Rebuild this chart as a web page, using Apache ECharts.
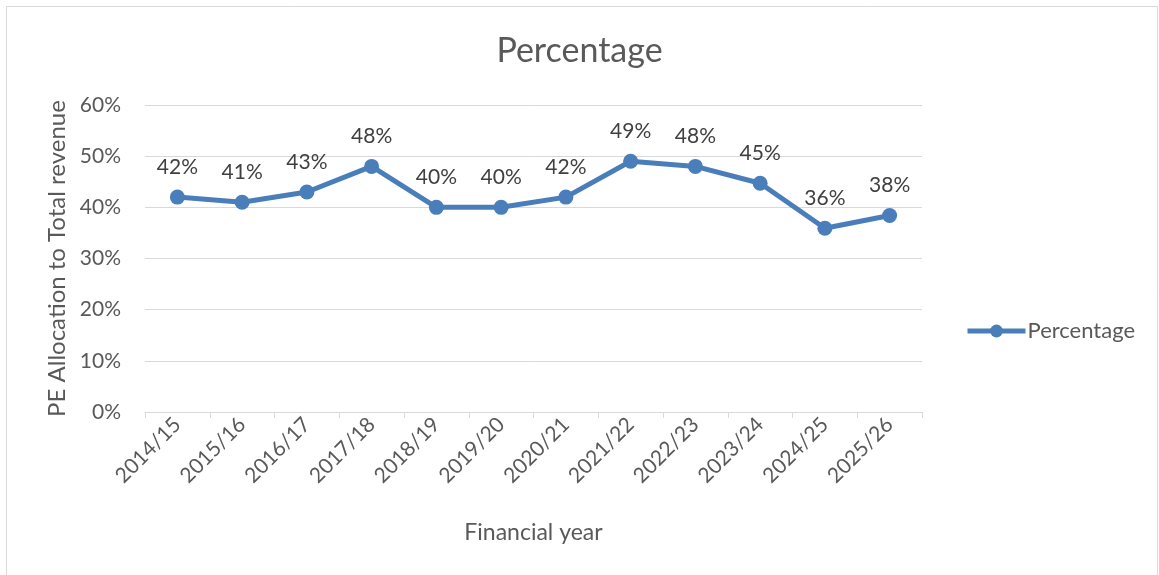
<!DOCTYPE html>
<html>
<head>
<meta charset="utf-8">
<script src="https://cdn.jsdelivr.net/npm/echarts@6/dist/echarts.min.js"></script>
<style>
  html, body { margin: 0; padding: 0; background: #fff; }
  #chartData { width: 1159px; height: 575px; }
</style>
</head>
<body>
<div id="chartData"></div>
<script>
// data
var years = ["2014/15", "2015/16", "2016/17", "2017/18", "2018/19", "2019/20",
             "2020/21", "2021/22", "2022/23", "2023/24", "2024/25", "2025/26"];
var percentage = [0.42, 0.41, 0.43, 0.48, 0.40, 0.40, 0.42, 0.49, 0.48, 0.447, 0.359, 0.384];
var yTicks = [0, 0.1, 0.2, 0.3, 0.4, 0.5, 0.6];

var textColor = "#595959";
var fontName = "Lato";

var myChart = echarts.init(document.getElementById("chartData"));

function pct(v) {
  return Math.round(v * 100) + "%";
}

var option = {
  textStyle: { fontFamily: fontName },
  graphic: [{
    type: "rect",
    shape: { x: 6.5, y: 6.5, width: 1151, height: 600 },
    style: { fill: "none", stroke: "#d9d9d9", lineWidth: 1 }
  }],
  title: {
    text: "Percentage",
    left: "center",
    top: 29,
    textStyle: { color: textColor, fontSize: 34, fontWeight: "normal", fontFamily: fontName }
  },
  legend: {
    left: 960,
    top: 315,
    itemWidth: 58,
    itemHeight: 16,
    itemGap: 4,
    textStyle: { color: textColor, fontSize: 22, fontFamily: fontName, padding: [0, 0, 0, -3] },
    lineStyle: { width: 5 },
    data: ["Percentage"]
  },
  grid: { left: 145, right: 237, top: 105, bottom: 163 },
  xAxis: {
    type: "category",
    data: years,
    boundaryGap: true,
    name: "Financial year",
    nameLocation: "middle",
    nameGap: 109,
    nameTextStyle: { color: textColor, fontSize: 23, fontFamily: fontName },
    axisLine: { lineStyle: { color: "#d9d9d9", width: 1 } },
    axisTick: { show: true, length: 6, lineStyle: { color: "#d9d9d9" } },
    axisLabel: { rotate: 45, interval: 0, color: textColor, fontSize: 21, fontFamily: fontName, margin: 9 }
  },
  yAxis: {
    type: "value",
    min: 0,
    max: yTicks[yTicks.length - 1],
    interval: 0.1,
    name: "PE Allocation to Total revenue",
    nameLocation: "middle",
    nameGap: 76,
    nameTextStyle: { color: textColor, fontSize: 24, fontFamily: fontName },
    axisLine: { show: false },
    axisTick: { show: false },
    splitLine: { lineStyle: { color: "#d9d9d9", width: 1 } },
    axisLabel: { color: textColor, fontSize: 21, fontFamily: fontName, margin: 24, formatter: pct }
  },
  series: [{
    name: "Percentage",
    type: "line",
    data: percentage,
    symbol: "circle",
    symbolSize: 15,
    lineStyle: { color: "#4a7ebb", width: 5 },
    itemStyle: { color: "#4a7ebb" },
    label: {
      show: true,
      position: "top",
      distance: 12,
      color: "#404040",
      fontSize: 21,
      fontFamily: fontName,
      formatter: function (p) { return pct(p.value); }
    }
  }]
};

myChart.setOption(option, true);
</script>
</body>
</html>
